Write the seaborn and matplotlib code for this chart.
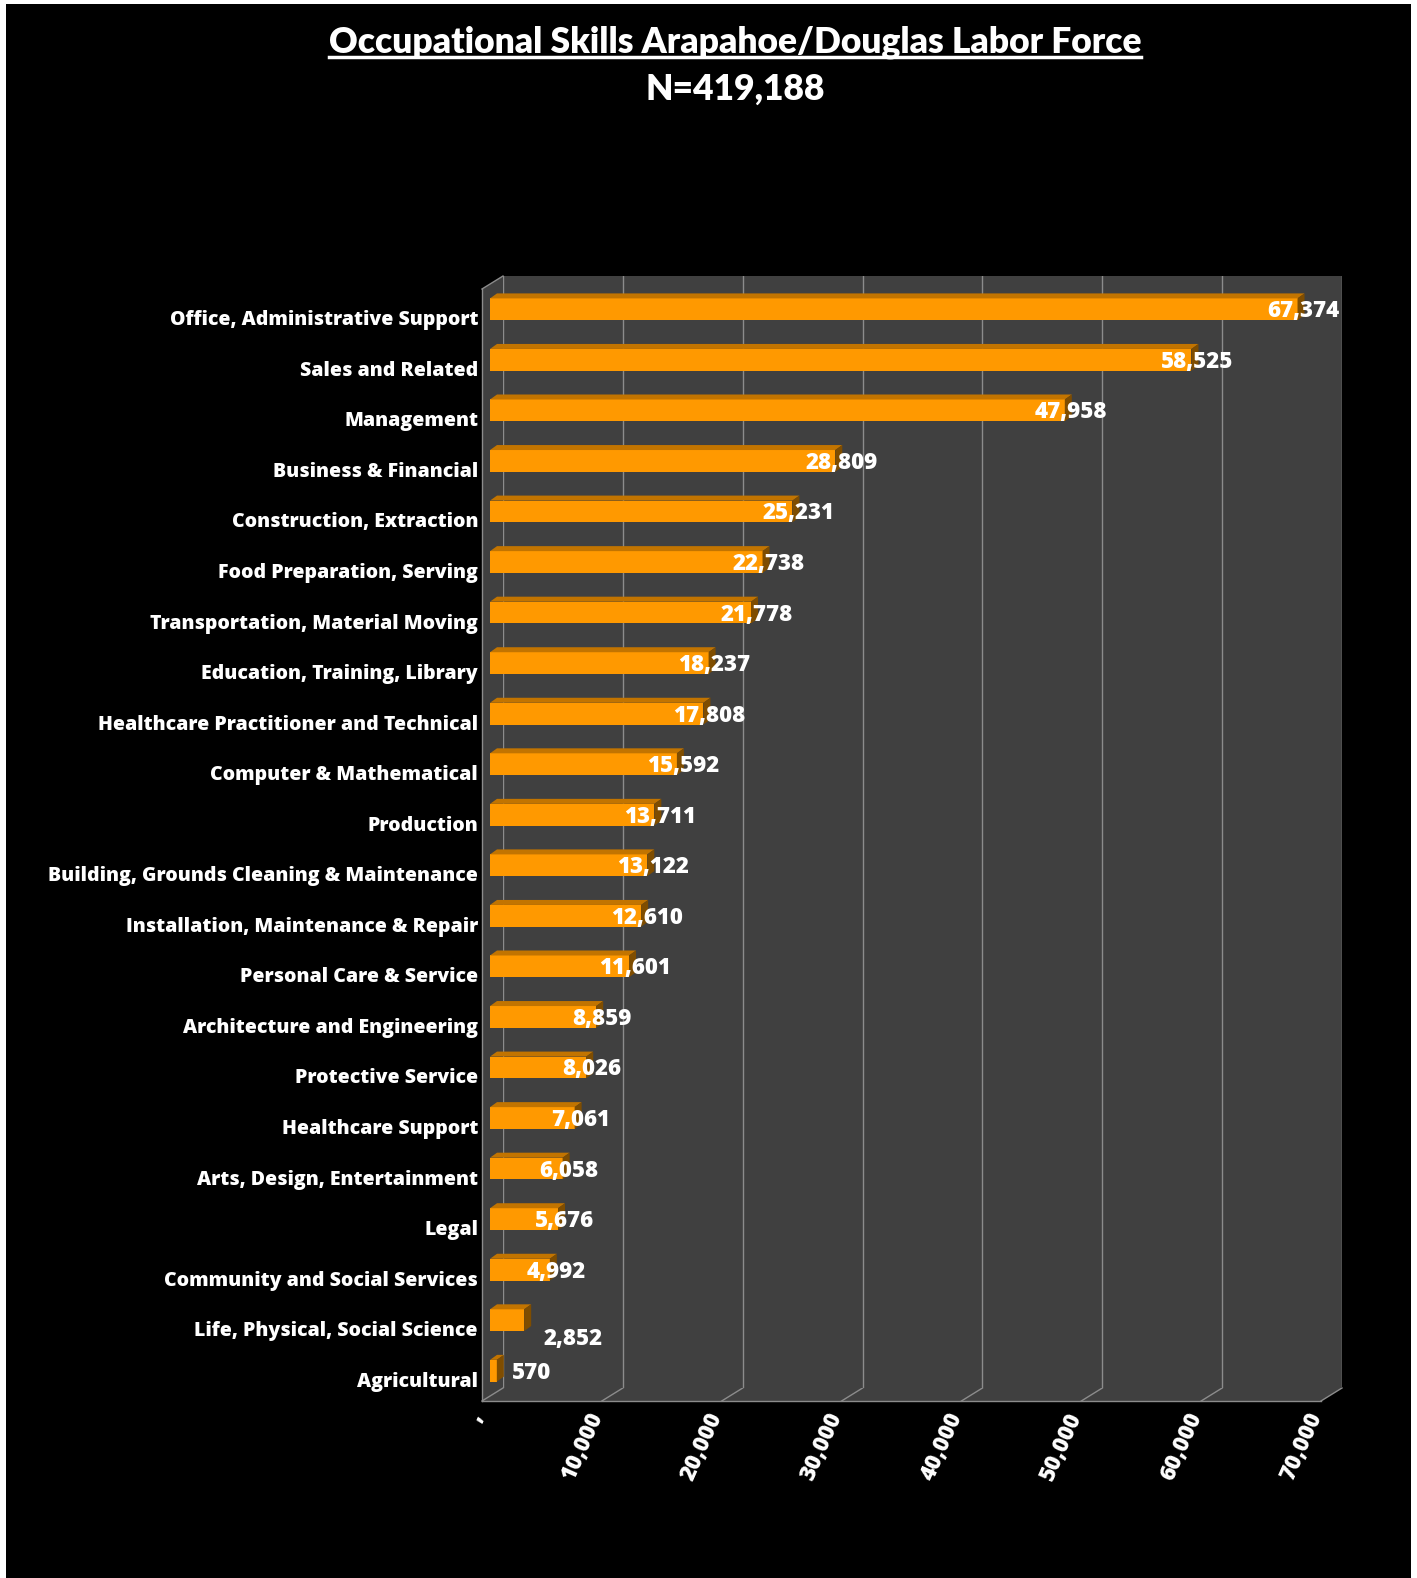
import matplotlib
matplotlib.use("Agg")
import matplotlib.pyplot as plt
import seaborn as sns
from matplotlib.lines import Line2D
from matplotlib.patches import Polygon, Rectangle
from matplotlib.transforms import ScaledTranslation, blended_transform_factory

categories = [
    "Office, Administrative Support", "Sales and Related", "Management",
    "Business & Financial", "Construction, Extraction", "Food Preparation, Serving",
    "Transportation, Material Moving", "Education, Training, Library",
    "Healthcare Practitioner and Technical", "Computer & Mathematical", "Production",
    "Building, Grounds Cleaning & Maintenance", "Installation, Maintenance & Repair",
    "Personal Care & Service", "Architecture and Engineering", "Protective Service",
    "Healthcare Support", "Arts, Design, Entertainment", "Legal",
    "Community and Social Services", "Life, Physical, Social Science", "Agricultural",
]
values = [67374, 58525, 47958, 28809, 25231, 22738, 21778, 18237, 17808, 15592, 13711,
          13122, 12610, 11601, 8859, 8026, 7061, 6058, 5676, 4992, 2852, 570]
x_ticks = [0, 10000, 20000, 30000, 40000, 50000, 60000, 70000]
title = "Occupational Skills Arapahoe/Douglas Labor Force"
subtitle = "N=419,188"

ORANGE, TOP, SIDE = "#FF9900", "#C27400", "#7F4D00"
WALL, EDGE = "#404040", "#8C8C8C"
FONT = "Open Sans"

W, H, DPI = 1417, 1578, 100
fx = lambda x: x / W
fy = lambda y: 1 - y / H

fig = plt.figure(figsize=(W / DPI, H / DPI), dpi=DPI, facecolor="white")
fig.add_artist(Rectangle((fx(6), 0), fx(1411) - fx(6), fy(4), transform=fig.transFigure,
                         facecolor="black", lw=0, zorder=-10))

# back wall of the 3d chart
WL, WR, WT, WB = 503, 1342, 276, 1388
DX, DY = -21, 13
ax = fig.add_axes([fx(WL), fy(WB), (WR - WL) / W, (WB - WT) / H])
ax.set_facecolor(WALL)

# side wall + floor
side = [(WL, WT), (WL + DX, WT + DY), (WL + DX, WB + DY), (WL, WB)]
floor = [(WL, WB), (WR, WB), (WR + DX, WB + DY), (WL + DX, WB + DY)]
for poly in (side, floor):
    fig.add_artist(Polygon([(fx(a), fy(b)) for a, b in poly], transform=fig.transFigure,
                           facecolor=WALL, lw=0, zorder=-1))
edges = [[(WL, WT), (WL + DX, WT + DY)], [(WL + DX, WT + DY), (WL + DX, WB + DY)],
         [(WL + DX, WB + DY), (WR + DX, WB + DY)]]
for t in x_ticks:
    xp = WL + (WR - WL) * t / x_ticks[-1]
    edges.append([(xp, WB), (xp + DX, WB + DY)])
for seg in edges:
    fig.add_artist(Line2D([fx(p[0]) for p in seg], [fy(p[1]) for p in seg],
                          transform=fig.transFigure, color=EDGE, lw=1, zorder=-0.5))

sns.barplot(x=values, y=categories, orient="h", color=ORANGE, saturation=1,
            width=0.43, linewidth=0, ax=ax)
ax.set_xlim(0, x_ticks[-1])
ax.set_ylim(len(categories) - 0.5, -0.5)
ax.set_xticks(x_ticks)
ax.grid(axis="x", color=EDGE, lw=1)
ax.grid(axis="y", visible=False)
ax.set_axisbelow(True)
ax.tick_params(length=0, labelleft=False, labelbottom=False)
ax.set_xlabel("")
ax.set_ylabel("")
for s in ax.spines.values():
    s.set_visible(False)

# 3d bars: shift front faces, add top and side faces
front = ax.transData + ScaledTranslation(-13 / DPI, -8 / DPI, fig.dpi_scale_trans)
ddx = 7 * x_ticks[-1] / (WR - WL)
ddy = 5 * len(categories) / (WB - WT)
for p in list(ax.patches):
    p.set_transform(front)
    p.set_clip_on(False)
    x0, x1 = p.get_x(), p.get_x() + p.get_width()
    yt, yb = p.get_y(), p.get_y() + p.get_height()
    ax.add_patch(Polygon([(x0, yt), (x1, yt), (x1 + ddx, yt - ddy), (x0 + ddx, yt - ddy)],
                         transform=front, clip_on=False, facecolor=TOP, lw=0, zorder=3))
    ax.add_patch(Polygon([(x1, yt), (x1 + ddx, yt - ddy), (x1 + ddx, yb - ddy), (x1, yb)],
                         transform=front, clip_on=False, facecolor=SIDE, lw=0, zorder=3))

# value labels (the two shortest bars have theirs pushed aside)
nudge = {"Life, Physical, Social Science": (43, 17), "Agricultural": (29, 0)}
for i, (c, v) in enumerate(zip(categories, values)):
    nx, ny = nudge.get(c, (0, 0))
    tr = ax.transData + ScaledTranslation((-7 + nx) / DPI, (-10 - ny) / DPI, fig.dpi_scale_trans)
    ax.text(v, i, f"{v:,}", transform=tr, ha="center", va="center", color="white",
            fontsize=16, fontweight="heavy", family=FONT, zorder=5, clip_on=False)

# category labels
lab_tr = blended_transform_factory(fig.transFigure, ax.transData) + \
    ScaledTranslation(0, -19 / DPI, fig.dpi_scale_trans)
for i, c in enumerate(categories):
    fig.text(fx(478), i, c, transform=lab_tr, ha="right", va="center", color="white",
             fontsize=14, fontweight="heavy", family=FONT)

# x tick labels along the front edge of the floor
tick_tr = blended_transform_factory(ax.transData, ax.transAxes) + \
    ScaledTranslation(-26 / DPI, -26 / DPI, fig.dpi_scale_trans)
for t in x_ticks:
    ax.text(t, 0, f"{t:,}" if t else ",", transform=tick_tr, rotation=66,
            rotation_mode="anchor", ha="right", va="center", color="white",
            fontsize=16, fontweight="heavy", family=FONT, clip_on=False)

ttl = fig.text(fx(735), fy(42), title, ha="center", va="center", color="white",
               fontsize=25.5, fontweight="heavy", family="Lato")
fig.text(fx(735), fy(89), subtitle, ha="center", va="center", color="white",
         fontsize=25.5, fontweight="heavy", family="Lato")
fig.canvas.draw()
bb = ttl.get_window_extent()
fig.add_artist(Line2D([bb.x0 / W, bb.x1 / W], [fy(57), fy(57)], transform=fig.transFigure,
                      color="white", lw=2.5))

fig.savefig("out.png", dpi=DPI, facecolor=fig.get_facecolor())
